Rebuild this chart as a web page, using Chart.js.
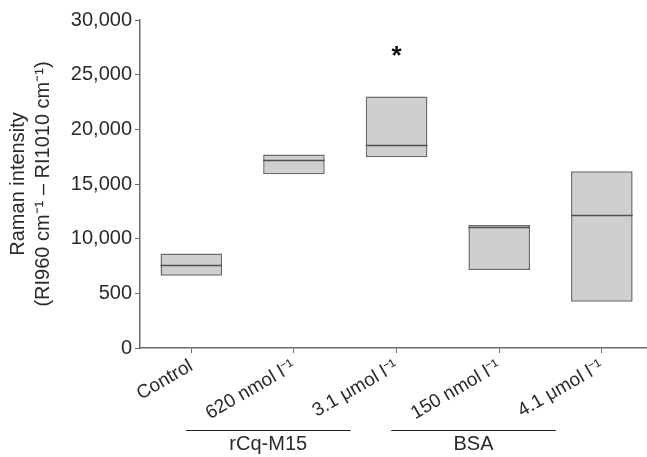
<!DOCTYPE html>
<html>
<head>
<meta charset="utf-8">
<script src="https://cdn.jsdelivr.net/npm/chart.js@4/dist/chart.umd.min.js"></script>
<style>
  html, body { margin: 0; padding: 0; background: #fff; }
  #wrap { width: 647px; height: 457px; }
</style>
</head>
<body>
<div id="wrap"><canvas id="chart" width="647" height="457"></canvas></div>
<script>
// box values (Raman intensity)
const categories = ['Control', '620 nmol l\u207B\u00B9', '3.1 \u03BCmol l\u207B\u00B9', '150 nmol l\u207B\u00B9', '4.1 \u03BCmol l\u207B\u00B9'];
const boxLow = [6600, 15900, 17450, 7130, 4220];
const boxMedian = [7550, 17200, 18600, 11040, 12170];
const boxHigh = [8650, 17700, 23000, 11260, 16170];
const stars = ['', '', '*', '', ''];

const yTickValues = [0, 5000, 10000, 15000, 20000, 25000, 30000];
const yTickLabels = ['0', '500', '10,000', '15,000', '20,000', '25,000', '30,000'];

const groupNames = ['rCq-M15', 'BSA'];
const groupSpans = [[1, 2], [3, 4]];

const axisColor = '#6a6a6a';
const textColor = '#2a2a2a';
const FONT = 'Arial, "Liberation Sans", Helvetica, sans-serif';

// median lines, asterisk and group brackets
const extrasPlugin = {
    id: 'extras',
    afterDatasetsDraw(chart) {
        const ctx = chart.ctx;
        const meta = chart.getDatasetMeta(0);
        const y = chart.scales.y;
        ctx.save();
        meta.data.forEach((bar, i) => {
            const half = bar.width / 2;
            const py = Math.round(y.getPixelForValue(boxMedian[i])) + 0.5;
            ctx.strokeStyle = '#505050';
            ctx.lineWidth = 1.6;
            ctx.beginPath();
            ctx.moveTo(bar.x - half, py);
            ctx.lineTo(bar.x + half, py);
            ctx.stroke();

            if (stars[i]) {
                ctx.fillStyle = '#111';
                ctx.font = 'bold 26px ' + FONT;
                ctx.textAlign = 'center';
                ctx.textBaseline = 'middle';
                ctx.fillText(stars[i], bar.x, y.getPixelForValue(boxHigh[i]) - 40);
            }
        });
        ctx.restore();
    },
    afterDraw(chart) {
        const ctx = chart.ctx;
        const x = chart.scales.x;
        ctx.save();
        groupNames.forEach((name, g) => {
            const x0 = x.getPixelForValue(groupSpans[g][0]) - 108;
            const x1 = x.getPixelForValue(groupSpans[g][1]) - 46;
            ctx.strokeStyle = '#222';
            ctx.lineWidth = 1;
            ctx.beginPath();
            ctx.moveTo(x0, 430.5);
            ctx.lineTo(x1, 430.5);
            ctx.stroke();
            ctx.fillStyle = textColor;
            ctx.font = '20px ' + FONT;
            ctx.textAlign = 'center';
            ctx.textBaseline = 'top';
            ctx.fillText(name, (x0 + x1) / 2, 434);
        });
        ctx.restore();
    }
};

new Chart(document.getElementById('chart'), {
    type: 'bar',
    data: {
        datasets: [{
            data: categories.map((c, i) => ({ x: i, y: [boxLow[i], boxHigh[i]] })),
            backgroundColor: '#cfcfcf',
            borderColor: '#6a6a6a',
            borderWidth: 1.5,
            borderSkipped: false,
            barPercentage: 0.6,
            categoryPercentage: 1
        }]
    },
    options: {
        responsive: false,
        animation: false,
        layout: { padding: { top: 20, right: 0, bottom: 0, left: 0 } },
        plugins: {
            legend: { display: false },
            tooltip: { enabled: false }
        },
        scales: {
            x: {
                type: 'linear',
                offset: false,
                min: -0.5,
                max: 4.44,
                afterBuildTicks: (s) => { s.ticks = categories.map((c, i) => ({ value: i })); },
                afterFit: (s) => { s.height = 109; },
                grid: { offset: false, drawOnChartArea: false, drawTicks: true, tickLength: 5, color: axisColor },
                border: { display: true, color: axisColor, width: 1.5 },
                ticks: {
                    autoSkip: false,
                    minRotation: 30,
                    maxRotation: 30,
                    padding: 2,
                    color: textColor,
                    font: { family: FONT, size: 19 },
                    callback: (v) => categories[v]
                }
            },
            y: {
                min: 0,
                max: 30000,
                afterBuildTicks: (s) => { s.ticks = yTickValues.map(v => ({ value: v })); },
                afterFit: (s) => { s.width = 140; },
                grid: { drawOnChartArea: false, drawTicks: true, tickLength: 5, color: axisColor },
                border: { display: true, color: axisColor, width: 1.5 },
                ticks: {
                    padding: 3,
                    color: textColor,
                    font: { family: FONT, size: 20 },
                    callback: (v) => yTickLabels[yTickValues.indexOf(v)]
                },
                title: {
                    display: true,
                    text: ['Raman intensity', '(RI960 cm\u207B\u00B9 \u2013 RI1010 cm\u207B\u00B9)'],
                    color: textColor,
                    font: { family: FONT, size: 20, lineHeight: 1.25 },
                    padding: { top: 6, bottom: 4 }
                }
            }
        }
    },
    plugins: [extrasPlugin]
});
</script>
</body>
</html>
